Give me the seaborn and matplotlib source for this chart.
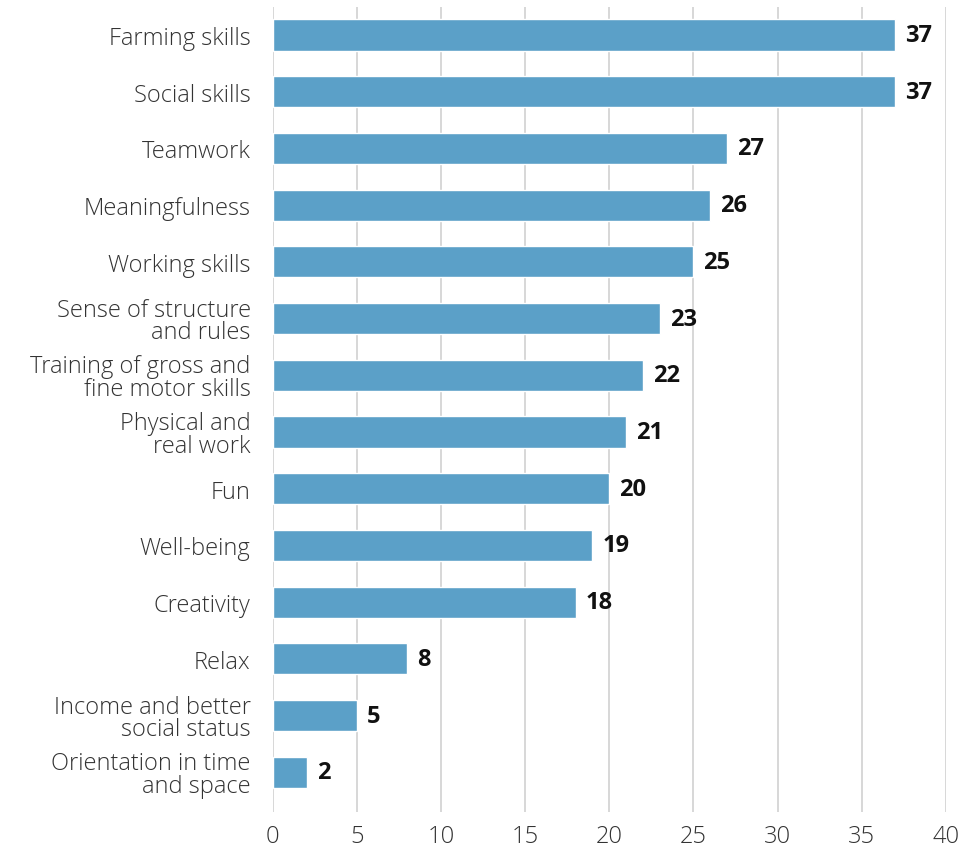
import matplotlib
matplotlib.use("Agg")
import matplotlib.pyplot as plt
import seaborn as sns
import pandas as pd

categories = [
    "Farming skills",
    "Social skills",
    "Teamwork",
    "Meaningfulness",
    "Working skills",
    "Sense of structure\nand rules",
    "Training of gross and\nfine motor skills",
    "Physical and\nreal work",
    "Fun",
    "Well-being",
    "Creativity",
    "Relax",
    "Income and better\nsocial status",
    "Orientation in time\nand space",
]
counts = [37, 37, 27, 26, 25, 23, 22, 21, 20, 19, 18, 8, 5, 2]
x_ticks = [0, 5, 10, 15, 20, 25, 30, 35, 40]

df = pd.DataFrame({"category": categories, "count": counts})

sns.set_theme(style="white")
plt.rcParams["font.family"] = ["Open Sans", "DejaVu Sans"]

fig = plt.figure(figsize=(9.78, 8.53), dpi=100)
ax = fig.add_axes([0.279, 0.047, 0.688, 0.944])

sns.barplot(data=df, x="count", y="category", color="#5ba0c8",
            saturation=1, width=0.55, ax=ax, orient="h")

ax.set_xlim(0, 40)
ax.set_ylim(13.7, -0.5)
ax.set_xticks(x_ticks)
ax.set_xticklabels([str(t) for t in x_ticks], fontsize=17, color="#333333",
                   fontweight="light")
ax.set_yticklabels(categories, fontsize=17, color="#333333",
                   fontweight="light", linespacing=0.92)
ax.tick_params(axis="both", length=0)
ax.tick_params(axis="x", pad=9)
ax.tick_params(axis="y", pad=16)
ax.set_xlabel("")
ax.set_ylabel("")

ax.grid(axis="x", color="#d4d4d4", linewidth=1.3)
ax.set_axisbelow(True)
for s in ax.spines.values():
    s.set_visible(False)

for i, v in enumerate(counts):
    ax.text(v + 0.6, i, str(v), va="center", ha="left", fontsize=17,
            fontweight="bold", color="#111111")

fig.savefig("out.png", dpi=100)
